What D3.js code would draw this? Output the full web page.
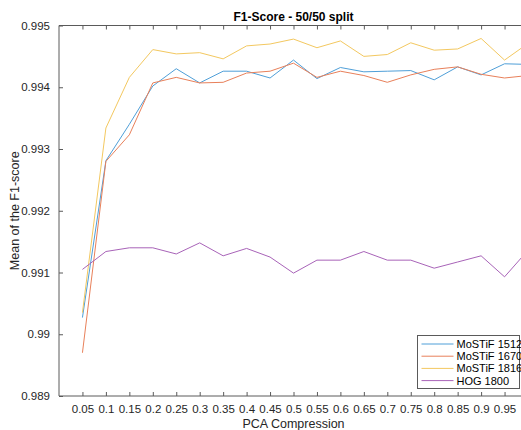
<!DOCTYPE html>
<html>
<head>
<meta charset="utf-8">
<script src="https://cdn.jsdelivr.net/npm/d3@7"></script>
<style>
  html, body { margin: 0; padding: 0; background: #fff; }
  svg { display: block; font-family: "Liberation Sans", Arial, Helvetica, sans-serif; }
</style>
</head>
<body>
<svg id="chart" width="521" height="430"></svg>
<script>
// PCA compression ratios on the x axis
const compression = [0.05, 0.1, 0.15, 0.2, 0.25, 0.3, 0.35, 0.4, 0.45, 0.5,
                     0.55, 0.6, 0.65, 0.7, 0.75, 0.8, 0.85, 0.9, 0.95, 1.0];

// Mean F1-score per descriptor
const mostif1512 = [0.99027, 0.99281, 0.99340, 0.99402, 0.99430, 0.99407, 0.99426, 0.99426, 0.99415, 0.99444,
                    0.99414, 0.99432, 0.99425, 0.99426, 0.99427, 0.99412, 0.99433, 0.99420, 0.99438, 0.99437];
const mostif1670 = [0.98970, 0.99280, 0.99323, 0.99407, 0.99416, 0.99407, 0.99408, 0.99423, 0.99426, 0.99439,
                    0.99416, 0.99426, 0.99419, 0.99408, 0.99420, 0.99429, 0.99433, 0.99421, 0.99415, 0.99419];
const mostif1816 = [0.99035, 0.99334, 0.99416, 0.99461, 0.99454, 0.99456, 0.99446, 0.99467, 0.99470, 0.99478,
                    0.99464, 0.99475, 0.99450, 0.99453, 0.99472, 0.99460, 0.99462, 0.99479, 0.99444, 0.99471];
const hog1800    = [0.99105, 0.99134, 0.99140, 0.99140, 0.99130, 0.99148, 0.99127, 0.99139, 0.99125, 0.99099,
                    0.99120, 0.99120, 0.99134, 0.99120, 0.99120, 0.99107, 0.99117, 0.99127, 0.99093, 0.99136];

const seriesNames  = ["MoSTiF 1512", "MoSTiF 1670", "MoSTiF 1816", "HOG 1800"];
const seriesValues = [mostif1512, mostif1670, mostif1816, hog1800];
const seriesColors = ["#4f9fd8", "#e8805a", "#f3c860", "#a863b8"];

const xTicks = [0.05, 0.1, 0.15, 0.2, 0.25, 0.3, 0.35, 0.4, 0.45, 0.5,
                0.55, 0.6, 0.65, 0.7, 0.75, 0.8, 0.85, 0.9, 0.95];
const yTicks = [0.989, 0.99, 0.991, 0.992, 0.993, 0.994, 0.995];

const svg = d3.select("#chart");
const plot = { left: 59, right: 528, top: 25.5, bottom: 396 };

const x = d3.scaleLinear().domain([0, 1]).range([plot.left, plot.right]);
const y = d3.scaleLinear().domain([0.989, 0.995]).range([plot.bottom, plot.top]);

const axisColor = "#5a5a5a";

// Data lines
const line = d3.line().x((d, i) => x(compression[i])).y(d => y(d));
svg.append("g").selectAll("path")
  .data(seriesValues)
  .join("path")
  .attr("d", d => line(d))
  .attr("fill", "none")
  .attr("stroke", (d, i) => seriesColors[i])
  .attr("stroke-width", 1)
  .attr("stroke-linejoin", "round");

// Axes (box style, inward ticks)
const bottomAxis = d3.axisBottom(x).tickValues(xTicks).tickSize(-4).tickPadding(9)
  .tickFormat(d => d3.format("")(+d.toFixed(2)));
const topAxis = d3.axisTop(x).tickValues(xTicks).tickSize(-4).tickFormat("");
const leftAxis = d3.axisLeft(y).tickValues(yTicks).tickSize(-4).tickPadding(9)
  .tickFormat(d => d3.format("")(+d.toFixed(3)));

function styleAxis(g) {
  g.select(".domain").attr("stroke", axisColor).attr("stroke-width", 1);
  g.selectAll(".tick line").attr("stroke", axisColor).attr("stroke-width", 1);
  g.selectAll(".tick text").attr("fill", "#262626").style("font-size", "11.5px");
}

svg.append("g").attr("transform", `translate(0,${plot.bottom})`).call(bottomAxis)
  .call(g => g.select(".domain").attr("d", `M${plot.left},0H${plot.right}`)).call(styleAxis);
svg.append("g").attr("transform", `translate(0,${plot.top})`).call(topAxis)
  .call(g => g.select(".domain").attr("d", `M${plot.left},0H${plot.right}`)).call(styleAxis);
svg.append("g").attr("transform", `translate(${plot.left},0)`).call(leftAxis)
  .call(g => g.select(".domain").attr("d", `M0,${plot.bottom}V${plot.top}`)).call(styleAxis);

// Title and axis labels
svg.append("text")
  .attr("x", (plot.left + plot.right) / 2).attr("y", 21)
  .attr("text-anchor", "middle")
  .style("font-size", "12px").style("font-weight", "bold").attr("fill", "#000")
  .text("F1-Score - 50/50 split");

svg.append("text")
  .attr("x", (plot.left + plot.right) / 2).attr("y", 428)
  .attr("text-anchor", "middle")
  .style("font-size", "12.5px").attr("fill", "#262626")
  .text("PCA Compression");

svg.append("text")
  .attr("transform", `translate(19,${(plot.top + plot.bottom) / 2}) rotate(-90)`)
  .attr("text-anchor", "middle")
  .style("font-size", "12.5px").attr("fill", "#262626")
  .text("Mean of the F1-score");

// Legend
const legend = svg.append("g").attr("transform", "translate(417.5,335.5)");
legend.append("rect")
  .attr("width", 102).attr("height", 53)
  .attr("fill", "#fff").attr("stroke", axisColor).attr("stroke-width", 1);
const rows = legend.selectAll("g.row").data(seriesNames).join("g")
  .attr("class", "row")
  .attr("transform", (d, i) => `translate(0,${8.5 + i * 12.2})`);
rows.append("line")
  .attr("x1", 4).attr("x2", 36).attr("y1", 0).attr("y2", 0)
  .attr("stroke", (d, i) => seriesColors[i]).attr("stroke-width", 1);
rows.append("text")
  .attr("x", 39).attr("y", 4)
  .style("font-size", "11px").attr("fill", "#000")
  .text(d => d);
</script>
</body>
</html>
